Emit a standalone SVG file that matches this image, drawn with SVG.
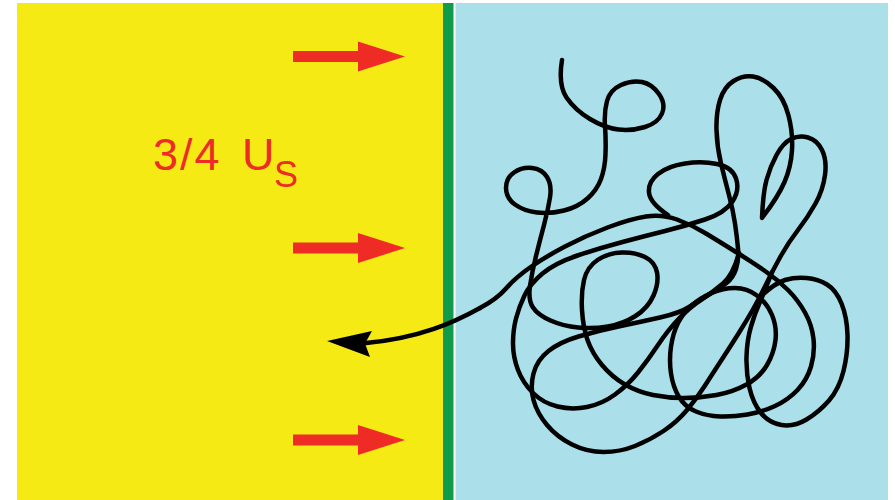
<svg xmlns="http://www.w3.org/2000/svg" xmlns:xlink="http://www.w3.org/1999/xlink" width="895" height="500" viewBox="0 0 895 500">
  <style>
    .flow { fill: #EE2B24; }
    .strand { fill: none; stroke: #000; stroke-width: 4.5; stroke-linecap: round; stroke-linejoin: round; }
    .label { font-family: "Liberation Sans", Arial, sans-serif; fill: #EE2B24; }
  </style>
  <defs>
    <!-- red flow arrow, drawn at origin y=0 -->
    <g id="flowArrow" class="flow">
      <rect x="293" y="-5.5" width="68" height="11"/>
      <polygon points="358,-15 405,0 358,15"/>
    </g>
  </defs>

  <rect width="895" height="500" fill="#fff"/>

  <!-- left region -->
  <g id="left-region">
    <rect x="17" y="3" width="427" height="497" fill="#F5EA14"/>
  </g>
  <!-- boundary -->
  <g id="boundary">
    <rect x="443" y="3" width="10.5" height="497" fill="#0F9B4A"/>
  </g>
  <!-- right region -->
  <g id="right-region">
    <rect x="455.5" y="3" width="432.5" height="497" fill="#ABDFE9"/>
  </g>

  <!-- flow arrows -->
  <g id="flow-arrows">
    <use xlink:href="#flowArrow" y="56.5"/>
    <use xlink:href="#flowArrow" y="248"/>
    <use xlink:href="#flowArrow" y="440"/>
  </g>

  <!-- label -->
  <g id="speed-label">
    <text class="label" x="153" y="169.5" font-size="45" letter-spacing="2">3/4 <tspan x="242" letter-spacing="0">U</tspan><tspan x="274" y="186.5" font-size="36" letter-spacing="0">S</tspan></text>
  </g>

  <!-- tangled strand -->
  <g id="tangle">
    <path class="strand" d="M562,60 Q558,85 566.5,97.5 Q575,110 590,119 Q605,128 618.5,129.5 Q632,131 645,127 Q658,123 662,113.5 Q666,104 659,94 Q652,84 642,82 Q632,80 621,85 Q610,90 607,101 Q604,112 605,126 Q606,140 605.5,154 Q605,168 601,179 Q597,190 587.5,198.5 Q578,207 564,210.5 Q550,214 537,212.5 Q524,211 515,204.5 Q506,198 506,188 Q506,178 514,172.5 Q522,167 532,168 Q542,169 547,177 Q552,185 550,197.5 Q548,210 544,225 Q540,240 536,256 Q532,272 530,286 Q528,300 533,307.5 Q538,315 550.5,320.5 Q563,326 578,327.5 Q593,329 608,326.5 Q623,324 635.5,316 Q648,308 653.5,295.5 Q659,283 657,272.5 Q655,262 645,257 Q635,252 621.5,252.5 Q608,253 597.5,260 Q587,267 584,280 Q581,293 582,310 Q583,327 587.5,340 Q592,353 602,365 Q612,377 625,384.5 Q638,392 653,395 Q668,398 684,398 Q700,398 716.5,395 Q733,392 746.5,384.5 Q760,377 767,365 Q774,353 775.5,340 Q777,327 772,315 Q767,303 757,295.5 Q747,288 735,288 Q723,288 711.5,293 Q700,298 691.5,305.5 Q683,313 678,323 Q673,333 671,346.5 Q669,360 671,373.5 Q673,387 679,397 Q685,407 696,411.5 Q707,416 720,416.5 Q733,417 747.5,414.5 Q762,412 775,406 Q788,400 797.5,390 Q807,380 811,366.5 Q815,353 813.5,339 Q812,325 805,312.5 Q798,300 788,290 Q778,280 765,271 Q752,262 736,252 Q720,242 706,233.5 Q692,225 677,219.5 Q662,214 646,216.5 Q630,219 607.5,227.5 Q585,236 565,246.5 Q545,257 530,267.5 Q515,278 506,288.5 Q497,299 480,308"/>
    <path class="strand" d="M690,306.5 Q680,313 660,317.5 Q640,322 618.5,326.5 Q597,331 578.5,336.5 Q560,342 548.5,351 Q537,360 533.5,373.5 Q530,387 533.5,400 Q537,413 547,425 Q557,437 572,444.5 Q587,452 603.5,452 Q620,452 635,446 Q650,440 663.5,431 Q677,422 687,410 Q697,398 705,385.5 Q713,373 721.5,360 Q730,347 738.5,333.5 Q747,320 753.5,308.5 Q760,297 766.5,283.5 Q773,270 780.5,256.5 Q788,243 798,230 Q808,217 815.5,203.5 Q823,190 825,175 Q827,160 822,150 Q817,140 808,137.5 Q799,135 791,139 Q783,143 776.5,155 Q770,167 766.5,180 Q763,193 762,218 Q778,197 784.5,182 Q791,167 792,150 Q793,133 788.5,115.5 Q784,98 773.5,88 Q763,78 753,76.5 Q743,75 733.5,81 Q724,87 720,100 Q716,113 716.5,130 Q717,147 721,163.5 Q725,180 729,195 Q733,210 735,223.5 Q737,237 738,248.5 Q739,260 736,269 Q733,278 726.5,283 Q720,288 710,294 Q700,300 690,306.5 Z"/>
    <path class="strand" d="M760,297 Q775,283 785,280 Q795,277 806.5,278 Q818,279 827,284.5 Q836,290 841.5,303.5 Q847,317 847.5,335 Q848,353 843.5,371 Q839,389 829,400.5 Q819,412 806.5,419.5 Q794,427 781.5,425 Q769,423 761,413 Q753,403 749.5,388 Q746,373 746.5,356.5 Q747,340 751,326.5 Q755,313 759.5,303 Q764,293 772,272"/>
    <path class="strand" d="M739,253 Q733,275 723,283.5 Q713,292 701.5,299.5 Q690,307 679,318.5 Q668,330 658,345 Q648,360 638,372.5 Q628,385 615,394.5 Q602,404 587,407 Q572,410 557.5,406.5 Q543,403 533,393 Q523,383 518,370 Q513,357 513,343.5 Q513,330 516,318.5 Q519,307 524.5,295.5 Q530,284 542.5,273.5 Q555,263 577.5,255.5 Q600,248 622.5,242 Q645,236 665,231 Q685,226 705,219.5 Q725,213 732.5,201.5 Q740,190 736,178.5 Q732,167 717,164 Q702,161 685,163.5 Q668,166 658,174 Q648,182 649,192.5 Q650,203 668,215"/>
  </g>

  <!-- escaping end of the strand -->
  <g id="connectors">
    <path class="strand" stroke-width="4" d="M480,308 C455,322 420,338 366,343"/>
    <polygon points="327,341 372,331 365,343.5 370,357" fill="#000"/>
  </g>
</svg>
